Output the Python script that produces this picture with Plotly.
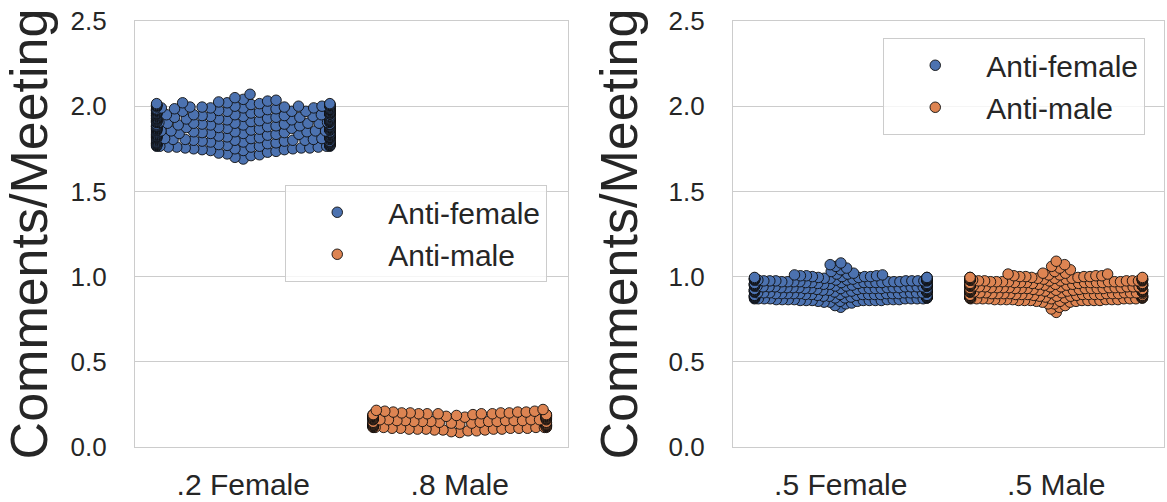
import numpy as np
import plotly.graph_objects as go

FIG_W, FIG_H = 1167, 502

# Category tick labels for each panel and the hue names
left_categories = [".2 Female", ".8 Male"]
right_categories = [".5 Female", ".5 Male"]
hue_names = ["Anti-female", "Anti-male"]

# Comments/Meeting per agent, binned to 0.005, with how many agents share each value
left_female_values = [1.690, 1.700, 1.710, 1.715, 1.720, 1.725, 1.730, 1.735, 1.740, 1.745,
                      1.750, 1.755, 1.760, 1.765, 1.770, 1.775, 1.780, 1.785, 1.790, 1.795,
                      1.800, 1.805, 1.810, 1.815, 1.820, 1.825, 1.830, 1.835, 1.840, 1.845,
                      1.850, 1.855, 1.860, 1.865, 1.870, 1.875, 1.880, 1.885, 1.890, 1.895,
                      1.900, 1.905, 1.910, 1.915, 1.920, 1.925, 1.930, 1.935, 1.940, 1.945,
                      1.950, 1.955, 1.960, 1.965, 1.970, 1.975, 1.980, 1.985, 1.990, 1.995,
                      2.000, 2.005, 2.010, 2.015, 2.020, 2.025, 2.030, 2.035, 2.040, 2.050,
                      2.070]
left_female_counts = [1, 1, 1, 1, 1, 1, 1, 1, 2, 2,
                      3, 3, 4, 5, 5, 6, 5, 5, 6, 5,
                      5, 6, 5, 5, 6, 5, 5, 6, 5, 5,
                      6, 5, 5, 6, 5, 5, 6, 5, 5, 6,
                      5, 5, 6, 5, 5, 6, 5, 5, 6, 5,
                      5, 6, 5, 5, 6, 5, 5, 6, 5, 5,
                      5, 5, 4, 3, 2, 1, 1, 1, 1, 1,
                      1]

left_male_values = [0.085, 0.090, 0.095, 0.100, 0.105, 0.110, 0.115, 0.120, 0.125, 0.130,
                    0.135, 0.140, 0.145, 0.150, 0.155, 0.160, 0.165, 0.170, 0.175, 0.180,
                    0.185, 0.190, 0.195, 0.200, 0.205, 0.210, 0.215, 0.220]
left_male_counts = [1, 1, 2, 3, 5, 5, 6, 5, 5, 6,
                    5, 5, 6, 5, 5, 6, 5, 5, 6, 5,
                    5, 5, 5, 4, 3, 2, 1, 1]

right_female_values = [0.820, 0.830, 0.840, 0.845, 0.850, 0.855, 0.860, 0.865, 0.870, 0.875,
                       0.880, 0.885, 0.890, 0.895, 0.900, 0.905, 0.910, 0.915, 0.920, 0.925,
                       0.930, 0.935, 0.940, 0.945, 0.950, 0.955, 0.960, 0.965, 0.970, 0.975,
                       0.980, 0.985, 0.990, 0.995, 1.000, 1.005, 1.010, 1.015, 1.020, 1.030,
                       1.040, 1.050, 1.060, 1.070, 1.080]
right_female_counts = [1, 1, 1, 1, 2, 3, 7, 7, 8, 7,
                       7, 8, 7, 7, 8, 7, 7, 8, 7, 7,
                       8, 7, 7, 8, 7, 7, 8, 7, 7, 8,
                       7, 7, 7, 5, 4, 3, 2, 2, 1, 1,
                       1, 1, 1, 1, 1]

right_male_values = [0.790, 0.810, 0.820, 0.830, 0.840, 0.850, 0.855, 0.860, 0.865, 0.870,
                     0.875, 0.880, 0.885, 0.890, 0.895, 0.900, 0.905, 0.910, 0.915, 0.920,
                     0.925, 0.930, 0.935, 0.940, 0.945, 0.950, 0.955, 0.960, 0.965, 0.970,
                     0.975, 0.980, 0.985, 0.990, 0.995, 1.000, 1.005, 1.010, 1.015, 1.020,
                     1.030, 1.040, 1.050, 1.060, 1.070, 1.090]
right_male_counts = [1, 1, 1, 1, 2, 2, 3, 7, 7, 8,
                     7, 7, 8, 7, 7, 8, 7, 7, 8, 7,
                     7, 8, 7, 7, 8, 7, 7, 8, 7, 7,
                     8, 7, 7, 7, 5, 4, 3, 2, 2, 2,
                     1, 1, 1, 1, 1, 1]

# Palette (seaborn "deep")
BLUE = "#4C72B0"
ORANGE = "#DD8452"
EDGE = "#0d0d0d"
GRID = "#cccccc"
TEXT = "#262626"
FONT = "Liberation Sans, Arial, sans-serif"

# Panel geometry in pixels
LEFT_X = (135, 568)
RIGHT_X = (733, 1164)
Y_TOP, Y_BOTTOM = 21, 447
Y_MAX = 2.5

MARKER_PX = 10.5     # drawn marker diameter
SWARM_WIDTH = 0.8    # swarm width in category units


def expand(values, counts):
    return np.repeat(np.asarray(values, float), np.asarray(counts, int))


def beeswarm(values, x_px_per_unit, y_px_per_unit, spacing, width):
    """Classic beeswarm: place points in value order at the free position
    closest to the category centre, then pull anything outside the swarm
    width back onto its edge."""
    vals = np.sort(np.asarray(values, float), kind="stable")
    y = vals * y_px_per_unit
    xs = np.zeros(len(y))
    s2 = spacing ** 2
    for i in range(len(y)):
        lo = np.searchsorted(y[:i], y[i] - spacing, side="right")
        nx = xs[lo:i]
        dy = y[i] - y[lo:i]
        if len(nx) == 0:
            xs[i] = 0.0
            continue
        dx = np.sqrt(np.maximum(s2 - dy ** 2, 0.0))
        cands = np.concatenate([[0.0], nx - dx, nx + dx])
        cands = cands[np.argsort(np.abs(cands), kind="stable")]
        d2 = (cands[:, None] - nx[None, :]) ** 2 + dy[None, :] ** 2
        ok = np.all(d2 >= s2 - 1e-6, axis=1)
        xs[i] = cands[np.argmax(ok)]
    half = width / 2 * x_px_per_unit
    return vals, np.clip(xs, -half, half) / x_px_per_unit


y_scale = (Y_BOTTOM - Y_TOP) / Y_MAX

panels = [
    dict(xr=LEFT_X, xaxis="x", yaxis="y", legend="legend", spacing=8.5,
         groups=[(left_female_values, left_female_counts, BLUE, hue_names[0]),
                 (left_male_values, left_male_counts, ORANGE, hue_names[1])]),
    dict(xr=RIGHT_X, xaxis="x2", yaxis="y2", legend="legend2", spacing=6.0,
         groups=[(right_female_values, right_female_counts, BLUE, hue_names[0]),
                 (right_male_values, right_male_counts, ORANGE, hue_names[1])]),
]

fig = go.Figure()
for p in panels:
    x_scale = (p["xr"][1] - p["xr"][0]) / 2.0
    for idx, (vals, cnts, color, name) in enumerate(p["groups"]):
        yv, off = beeswarm(expand(vals, cnts), x_scale, y_scale, p["spacing"], SWARM_WIDTH)
        fig.add_trace(go.Scatter(
            x=idx + off, y=yv, mode="markers", name=name,
            xaxis=p["xaxis"], yaxis=p["yaxis"], legend=p["legend"],
            marker=dict(size=MARKER_PX, color=color,
                        line=dict(color=EDGE, width=0.9)),
            hoverinfo="skip",
        ))

ydom = [1 - Y_BOTTOM / FIG_H, 1 - Y_TOP / FIG_H]

common_x = dict(range=[-0.5, 1.5], tickvals=[0, 1], showgrid=False, zeroline=False,
                showline=True, mirror=True, linecolor=GRID, linewidth=1.25,
                ticks="", tickfont=dict(size=30, color=TEXT, family=FONT),
                ticklabelstandoff=11, automargin=False, fixedrange=True)
common_y = dict(range=[0, Y_MAX], tickvals=[0, 0.5, 1.0, 1.5, 2.0, 2.5],
                tickformat=".1f", showgrid=True, gridcolor=GRID, gridwidth=1.25,
                zeroline=False, showline=True, mirror=True, linecolor=GRID,
                linewidth=1.25, ticks="",
                tickfont=dict(size=26, color=TEXT, family=FONT),
                ticklabelstandoff=22, automargin=False, fixedrange=True,
                title=dict(text="Comments/Meeting", standoff=14,
                           font=dict(size=52, color=TEXT, family=FONT)))

legend_style = dict(xanchor="left", yanchor="top", bgcolor="rgba(255,255,255,0.8)",
                    bordercolor=GRID, borderwidth=1.25, itemwidth=92,
                    font=dict(size=30, color=TEXT, family=FONT))

fig.update_layout(
    width=FIG_W, height=FIG_H, autosize=False,
    margin=dict(l=0, r=0, t=0, b=0, autoexpand=False),
    paper_bgcolor="white", plot_bgcolor="white",
    font=dict(family=FONT, color=TEXT),
    showlegend=True,
    xaxis=dict(domain=[LEFT_X[0] / FIG_W, LEFT_X[1] / FIG_W], anchor="y",
               ticktext=left_categories, **common_x),
    yaxis=dict(domain=ydom, anchor="x", **common_y),
    xaxis2=dict(domain=[RIGHT_X[0] / FIG_W, RIGHT_X[1] / FIG_W], anchor="y2",
                ticktext=right_categories, **common_x),
    yaxis2=dict(domain=ydom, anchor="x2", **common_y),
    legend=dict(x=285 / FIG_W, y=1 - 185 / FIG_H, **legend_style),
    legend2=dict(x=883 / FIG_W, y=1 - 38 / FIG_H, **legend_style),
)

fig.write_html("out.html")
